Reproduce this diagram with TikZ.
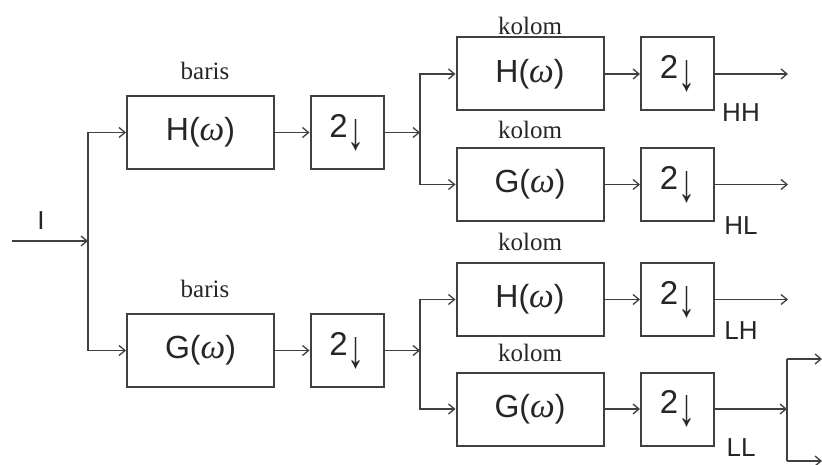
\documentclass[tikz,border=0pt]{standalone}
\usepackage{fontspec}
\usepackage{graphicx}
\setmainfont{Liberation Serif}
\setsansfont{Liberation Sans}
\usetikzlibrary{arrows.meta}
\begin{document}
\begin{tikzpicture}[x=1pt,y=-1pt,
  line width=2pt, draw=black!75,
  fbox/.style={draw=black!75, line width=2pt, minimum width=147pt, minimum height=73pt, inner sep=0pt, font=\sffamily\fontsize{32}{32}\selectfont, text=black!85},
  dbox/.style={draw=black!75, line width=2pt, minimum width=73pt, minimum height=73pt, inner sep=0pt, font=\sffamily\fontsize{33}{33}\selectfont, text=black!85},
  lab/.style={font=\rmfamily\fontsize{25}{25}\selectfont, text=black!85, inner sep=0pt},
  olab/.style={font=\sffamily\fontsize{26}{26}\selectfont, text=black!85, inner sep=0pt},
  arr/.style={draw=black!75, line width=1.8pt, -{Straight Barb[length=6pt,width=10pt,line width=1.3pt]}},
  ln/.style={draw=black!75, line width=1.8pt}
]
\useasboundingbox (0,0) rectangle (822,465);
\newcommand{\dn}{2\hspace{0pt}\raisebox{-12pt}{\resizebox{17pt}{30pt}{↓}}}
\newcommand{\om}{{\rmfamily\itshape\fontsize{35}{35}\selectfont ω}}
% first stage
\node[fbox] (H1) at (200.5,132.5) {H(\om)};
\node[dbox] (D1) at (347,132.5) {\dn};
\node[fbox] (G1) at (200.5,350.5) {G(\om)};
\node[dbox] (D2) at (347,350.5) {\dn};
\node[lab] (b1) at (205,71) {baris};
\node[lab] (b2) at (205,289) {baris};
% second stage
\node[fbox] (HH) at (530,74) {H(\om)};
\node[dbox] (DHH) at (677.5,74) {\dn};
\node[fbox] (HL) at (530,184.5) {G(\om)};
\node[dbox] (DHL) at (677.5,184.5) {\dn};
\node[fbox] (LH) at (530,299.5) {H(\om)};
\node[dbox] (DLH) at (677.5,299.5) {\dn};
\node[fbox] (LL) at (530,409) {G(\om)};
\node[dbox] (DLL) at (677.5,409) {\dn};
\node[lab] (k1) at (530,26) {kolom};
\node[lab] (k2) at (530,130) {kolom};
\node[lab] (k3) at (530,242) {kolom};
\node[lab] (k4) at (530,353) {kolom};
\node[olab] (oHH) at (741,113) {HH};
\node[olab] (oHL) at (741,226) {HL};
\node[olab] (oLH) at (741,331) {LH};
\node[olab] (oLL) at (741,448) {LL};
\node[olab] (I) at (41,221) {I};
% junctions
\coordinate (in) at (12,241);
\coordinate (j0) at (88,241);
\coordinate (j1) at (420,132.5);
\coordinate (j2) at (420,350.5);
\coordinate (j3) at (787,409);
\coordinate (j3t) at (787,359);
\coordinate (j3b) at (787,461);
\coordinate (e3t) at (822,359);
\coordinate (e3b) at (822,461);
\coordinate (eHH) at (788,74);
\coordinate (eHL) at (788,184.5);
\coordinate (eLH) at (788,299.5);
% connectors
\draw[arr] (in) -- (j0);
\draw[arr] (j0) |- (H1.west);
\draw[arr] (j0) |- (G1.west);
\draw[arr] (H1) -- (D1);
\draw[arr] (G1) -- (D2);
\draw[arr] (D1.east) -- (j1);
\draw[arr] (D2.east) -- (j2);
\draw[arr] (j1) |- (HH.west);
\draw[arr] (j1) |- (HL.west);
\draw[arr] (j2) |- (LH.west);
\draw[arr] (j2) |- (LL.west);
\draw[arr] (HH) -- (DHH);
\draw[arr] (HL) -- (DHL);
\draw[arr] (LH) -- (DLH);
\draw[arr] (LL) -- (DLL);
\draw[arr] (DHH.east) -- (eHH);
\draw[arr] (DHL.east) -- (eHL);
\draw[arr] (DLH.east) -- (eLH);
\draw[arr] (DLL.east) -- (j3);
\draw[ln] (j3t) -- (j3b);
\draw[arr] (j3t) -- (e3t);
\draw[arr] (j3b) -- (e3b);
\end{tikzpicture}
\end{document}
